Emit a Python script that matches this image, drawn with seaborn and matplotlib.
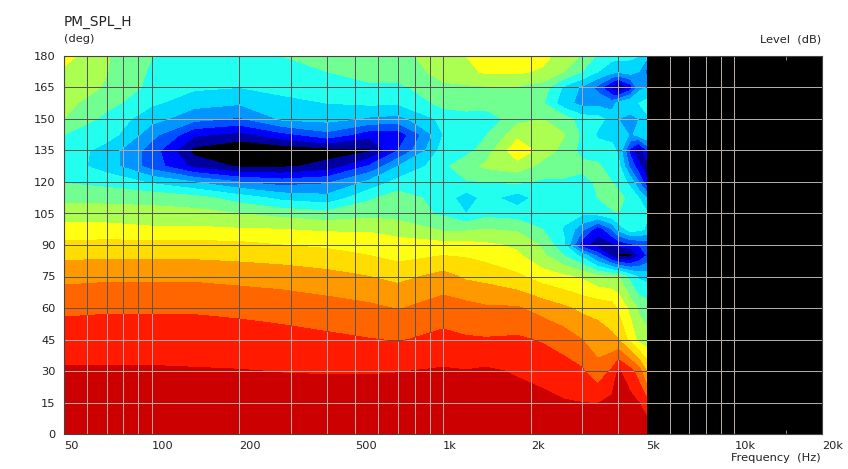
import numpy as np
import pandas as pd
import matplotlib
matplotlib.use("Agg")
import matplotlib.pyplot as plt
from matplotlib.colors import BoundaryNorm, ListedColormap
import seaborn as sns

# frequency columns (Hz) and the level at each angle (dB)
freq = [50, 70, 100, 140, 200, 280, 400, 560, 700, 1000, 1200, 1400, 1800, 2200,
        2600, 3000, 3400, 3800, 4000, 4400, 4700, 5000]

spl_0 = [-0.3, -0.3, -0.3, -0.3, -0.3, -0.3, -0.3, -0.3, -0.3, -0.3, -0.3, -0.3, -0.3, -0.3, -0.3, -0.3, -0.3, -0.3, -0.3, -0.3, -0.3, -0.5]
spl_15 = [-1.4, -1.4, -1.4, -1.4, -1.5, -1.5, -1.5, -1.5, -1.4, -1.2, -1.3, -1.2, -1.8, -2.2, -2.8, -3.0, -3.1, -2.2, -1.6, -2.0, -3.0, -5.0]
spl_30 = [-2.7, -2.7, -2.7, -2.8, -2.9, -3.1, -3.2, -3.2, -3.1, -2.7, -2.9, -2.6, -3.3, -4.0, -4.7, -5.6, -8.0, -5.5, -2.6, -5.0, -7.5, -12.0]
spl_45 = [-4.5, -4.4, -4.4, -4.5, -4.7, -5.0, -5.4, -5.9, -6.2, -5.2, -5.7, -5.8, -5.6, -6.3, -7.4, -9.0, -10.5, -11.5, -12.0, -16.0, -19.0, -20.0]
spl_60 = [-6.6, -6.4, -6.4, -6.4, -6.7, -7.1, -7.8, -8.4, -9.2, -7.6, -8.0, -8.6, -8.7, -10.2, -11.5, -12.7, -13.0, -13.5, -15.5, -19.0, -21.5, -22.5]
spl_75 = [-9.9, -9.6, -9.6, -9.6, -10.0, -10.4, -11.0, -12.0, -12.8, -11.0, -12.5, -13.0, -14.5, -16.5, -17.5, -18.5, -20.5, -21.0, -21.0, -25.0, -27.5, -28.0]
spl_85 = [-12.7, -12.5, -12.5, -12.6, -12.9, -13.3, -14.0, -15.0, -16.0, -15.0, -15.3, -16.0, -17.5, -20.5, -24.0, -28.0, -34.0, -40.0, -43.0, -43.0, -39.0, -36.0]
spl_90 = [-14.3, -14.0, -14.0, -14.0, -14.2, -15.0, -15.5, -16.0, -17.0, -17.0, -17.0, -17.5, -18.5, -21.5, -26.5, -38.0, -40.5, -40.0, -38.5, -37.0, -36.0, -35.0]
spl_97 = [-17.0, -17.0, -17.5, -17.5, -17.8, -18.0, -18.5, -18.5, -19.0, -21.5, -21.5, -21.0, -21.5, -24.0, -27.3, -32.0, -38.0, -33.0, -29.0, -25.5, -26.0, -27.5]
spl_105 = [-19.5, -19.5, -20.0, -20.0, -21.0, -22.0, -23.0, -22.0, -22.5, -24.5, -27.0, -25.0, -25.5, -25.0, -26.0, -26.5, -26.0, -24.5, -24.0, -25.0, -25.0, -26.5]
spl_112 = [-21.8, -22.0, -22.0, -23.0, -25.5, -28.0, -29.0, -24.5, -22.5, -25.5, -28.5, -26.0, -28.5, -25.5, -25.0, -25.0, -24.0, -22.5, -23.0, -25.0, -27.0, -30.0]
spl_120 = [-24.2, -25.0, -27.5, -30.0, -33.0, -34.5, -33.5, -29.2, -26.0, -24.5, -24.3, -24.0, -23.5, -24.5, -24.5, -25.0, -23.5, -24.0, -25.0, -28.0, -33.0, -38.0]
spl_127 = [-25.5, -28.5, -34.5, -40.0, -42.5, -42.5, -41.0, -35.5, -30.0, -24.7, -22.0, -20.5, -19.5, -22.0, -22.5, -23.2, -23.5, -25.5, -26.0, -34.0, -38.0, -41.0]
spl_135 = [-25.0, -28.5, -34.5, -43.0, -45.0, -44.5, -43.5, -42.5, -36.0, -25.5, -25.0, -22.5, -15.5, -19.5, -22.0, -25.0, -25.5, -26.0, -27.5, -37.0, -42.0, -36.0]
spl_142 = [-24.0, -25.5, -32.0, -38.5, -40.0, -37.0, -34.0, -38.0, -38.0, -27.0, -25.0, -24.2, -19.0, -19.8, -20.8, -24.5, -27.5, -28.0, -27.0, -30.5, -29.0, -27.0]
spl_150 = [-21.0, -25.0, -29.0, -32.0, -33.5, -29.5, -29.0, -30.5, -31.0, -26.0, -25.5, -26.0, -22.0, -21.0, -22.5, -25.5, -26.0, -28.0, -30.0, -31.5, -30.0, -27.5]
spl_157 = [-20.2, -23.0, -26.5, -29.0, -29.7, -28.0, -27.0, -26.5, -26.7, -23.0, -22.5, -22.5, -22.5, -23.7, -29.0, -31.0, -31.0, -31.5, -29.0, -27.0, -27.0, -26.0]
spl_165 = [-19.5, -21.3, -25.0, -26.5, -27.0, -26.0, -25.5, -24.5, -24.7, -21.5, -21.5, -21.3, -21.3, -22.5, -27.5, -30.5, -34.0, -40.0, -43.0, -38.0, -31.0, -30.0]
spl_172 = [-18.5, -20.9, -24.5, -25.5, -26.0, -25.0, -24.0, -23.0, -22.5, -20.0, -18.7, -17.6, -17.5, -18.5, -21.0, -24.0, -27.0, -29.0, -29.5, -28.5, -30.0, -34.0]
spl_180 = [-17.0, -20.8, -23.9, -25.0, -25.0, -24.0, -22.5, -22.0, -21.5, -20.0, -18.0, -16.8, -16.0, -17.0, -19.5, -21.2, -24.5, -26.0, -26.0, -26.5, -27.0, -29.0]

angles = [0, 15, 30, 45, 60, 75, 85, 90, 97.5, 105, 112.5, 120, 127.5, 135, 142.5, 150, 157.5, 165, 172.5, 180]
rows = [spl_0, spl_15, spl_30, spl_45, spl_60, spl_75, spl_85, spl_90, spl_97, spl_105,
        spl_112, spl_120, spl_127, spl_135, spl_142, spl_150, spl_157, spl_165, spl_172, spl_180]

band_edges = [-60, -42, -39, -36, -33, -30, -27, -24, -21, -18, -15, -12, -9, -6, -3, 1]
band_colors = ["#000000", "#0000a0", "#0000ff", "#0050ff", "#0095ff", "#00d8ff", "#22ffee",
               "#70ff90", "#aaff50", "#ffff11", "#ffdd00", "#ff9900", "#ff6600", "#ff1a00", "#cc0000"]

x_labels = ["50", "100", "200", "500", "1k", "2k", "5k", "10k", "20k"]
x_label_freq = [50, 100, 200, 500, 1000, 2000, 5000, 10000, 20000]
grid_freq = [60, 70, 80, 90, 100, 200, 300, 400, 500, 600, 700, 800, 900, 1000, 2000, 3000,
             4000, 6000, 7000, 8000, 9000, 10000]
minor_freq = [150, 250, 350, 450, 1500, 2500, 3500, 4500, 15000]
y_ticks = list(range(0, 181, 15))

df = pd.DataFrame(rows, index=angles, columns=freq)

sns.set_theme(style="white")
plt.rcParams["font.family"] = ["DejaVu Sans"]
cmap = ListedColormap(sns.color_palette(band_colors))

fig = plt.figure(figsize=(8.48, 4.69), dpi=100)
ax = fig.add_axes([64 / 848, 1 - 434 / 469, 758 / 848, 378 / 469])
ax.set_facecolor("black")  # nothing measured above 5k

ax.contourf(df.columns, df.index, df.values, levels=band_edges, cmap=cmap,
            norm=BoundaryNorm(band_edges, len(band_colors)))

# grid flips between light and dark depending on what is under it
mid = ax.contourf(df.columns, df.index, df.values, levels=[-30, -6], colors="none")
mid_path = mid.get_paths()[0]

light = "#b4aca4"
dark = "#565656"
grid_lines = [
    ax.vlines(grid_freq, 0, 180, color=light, lw=0.72),
    ax.hlines(y_ticks[1:-1], 50, 20000, color=light, lw=0.72),
]
v_dark = ax.vlines(grid_freq, 0, 180, color=dark, lw=0.72)
h_dark = ax.hlines(y_ticks[1:-1], 50, 20000, color=dark, lw=0.72)
v_dark.set_clip_path(mid_path, ax.transData)
h_dark.set_clip_path(mid_path, ax.transData)
for coll in grid_lines + [v_dark, h_dark]:
    coll.set_snap(True)

ax.set_xscale("log")
ax.set_xlim(50, 20000)
ax.set_ylim(0, 180)
ax.set_xticks(x_label_freq)
ax.set_xticklabels(x_labels, ha="left", fontsize=8.2, color="#222222")
ax.set_xticks(minor_freq, minor=True)
ax.set_xticklabels([], minor=True)
ax.set_yticks(y_ticks)
ax.set_yticklabels(y_ticks, fontsize=8.2, color="#222222")
ax.tick_params(axis="x", which="major", length=0, pad=5)
ax.tick_params(axis="y", length=0, pad=6)
ax.tick_params(axis="x", which="minor", direction="in", length=3, width=0.7, color="#888888",
               top=True, bottom=True)
for s in ax.spines.values():
    s.set_color("#444444")
    s.set_linewidth(0.8)

fig.text(64 / 848, 1 - 22 / 469, "PM_SPL_H", fontsize=9.8, color="#222222", va="center")
fig.text(64 / 848, 1 - 39 / 469, "(deg)", fontsize=8.2, color="#222222", va="center")
fig.text(821 / 848, 1 - 39 / 469, "Level  (dB)", fontsize=8.2, color="#222222", va="center", ha="right")
fig.text(821 / 848, 1 - 458 / 469, "Frequency  (Hz)", fontsize=8.2, color="#222222", va="center", ha="right")

plt.savefig("out.png", dpi=100)
